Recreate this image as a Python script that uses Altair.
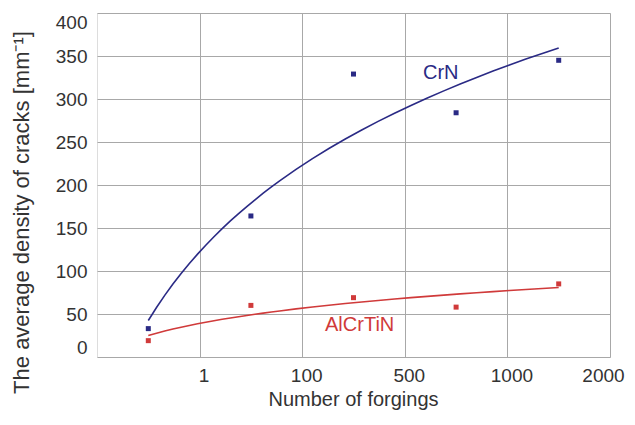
import altair as alt
import pandas as pd

# data
k = [1, 2, 3, 4, 5]
x_labels = ["1", "100", "500", "1000", "2000"]
crn = [33, 164, 329, 284, 345]
alcrtin = [19, 60, 69, 58, 85]
series_names = ["CrN", "AlCrTiN"]
colors = ["#2a2a85", "#d03a3a"]

df = pd.DataFrame(
    {"k": k * 2,
     "y": crn + alcrtin,
     "series": [series_names[0]] * len(k) + [series_names[1]] * len(k)}
)

FONT = "Liberation Sans"
tick_vals = [v + 0.5 for v in k]
label_expr = " : ".join(
    f"datum.value == {t} ? '{lab}'" for t, lab in zip(tick_vals, x_labels)
) + " : ''"

x_scale = alt.Scale(domain=[0.5, 5.5], nice=False, zero=False)
y_scale = alt.Scale(domain=[0, 400], nice=False)
color_scale = alt.Scale(domain=series_names, range=colors)

x_axis = alt.Axis(
    values=tick_vals, labelExpr=label_expr, title="Number of forgings",
    grid=True, gridColor="#a8a8a8", gridWidth=1, ticks=False, domain=False,
    labelFont=FONT, labelFontSize=19, labelColor="#333333", labelPadding=9,
    labelFlush=False,
    labelOffset={"condition": {"test": f"datum.value == {tick_vals[-1]}", "value": -7}, "value": 4},
    titleFont=FONT, titleFontSize=20, titleFontWeight="normal", titleColor="#333333",
    titleX=256, titleY=42, titleBaseline="middle",
)
y_axis = alt.Axis(
    values=list(range(0, 401, 50)), title="The average density of cracks [mm⁻¹]",
    grid=True, gridColor="#a8a8a8", gridWidth=1, ticks=False, domain=False,
    labelFont=FONT, labelFontSize=19, labelColor="#333333", labelPadding=10,
    labelFlush=True,
    titleFont=FONT, titleFontSize=22, titleFontWeight="normal", titleColor="#333333",
    titleX=-76, titleY=199, titleBaseline="middle", titleAlign="center", titleAngle=270,
)

base = alt.Chart(df)

points = base.mark_square(size=25, opacity=1).encode(
    x=alt.X("k:Q", scale=x_scale, axis=x_axis),
    y=alt.Y("y:Q", scale=y_scale, axis=y_axis),
    color=alt.Color("series:N", scale=color_scale, legend=None),
)

curves = base.transform_regression(
    "k", "y", method="log", groupby=["series"]
).mark_line(strokeWidth=1.6).encode(
    x=alt.X("k:Q", scale=x_scale),
    y=alt.Y("y:Q", scale=y_scale),
    color=alt.Color("series:N", scale=color_scale, legend=None),
)

one = pd.DataFrame({"n": [0]})
lab_crn = alt.Chart(one).mark_text(
    text="CrN", font=FONT, fontSize=20, color=colors[0]
).encode(x=alt.datum(3.85), y=alt.datum(330))

lab_al = alt.Chart(one).mark_text(
    text="AlCrTiN", font=FONT, fontSize=20, color=colors[1]
).encode(x=alt.datum(3.06), y=alt.datum(37))

chart = alt.layer(curves, points, lab_crn, lab_al).properties(
    width=513, height=344,
    autosize=alt.AutoSizeParams(type="none"),
    padding={"left": 89, "top": 5, "right": 17, "bottom": 60},
).configure_view(stroke="#a8a8a8", strokeWidth=1).configure(background="white")

chart.save("out.html", embed_options={"renderer": "svg", "actions": False})
